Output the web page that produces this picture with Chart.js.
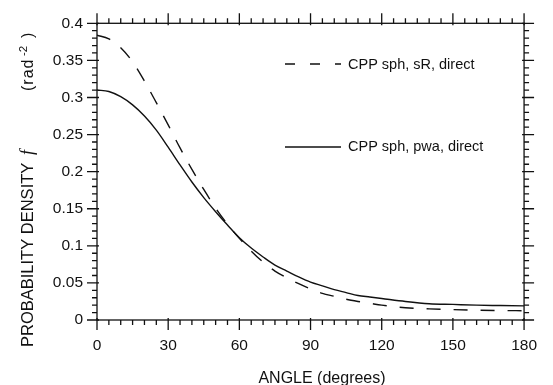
<!DOCTYPE html>
<html>
<head>
<meta charset="utf-8">
<script src="https://cdn.jsdelivr.net/npm/chart.js@4.4.0/dist/chart.umd.min.js"></script>
<style>
html, body { margin: 0; padding: 0; background: #fff; }
canvas { display: block; }
</style>
</head>
<body>
<canvas id="chart" width="553" height="385"></canvas>
<script>
// angle in degrees
let angles = [0, 5, 10, 15, 20, 25, 30, 35, 40, 45, 50, 55, 60, 65, 70, 75, 80, 85, 90, 95, 100, 105, 110, 115, 120, 130, 140, 150, 160, 170, 180];

// probability density (rad^-2)
let sR  = [0.384, 0.379, 0.367, 0.348, 0.322, 0.293, 0.263, 0.232, 0.203, 0.176, 0.151, 0.129, 0.110, 0.093, 0.078, 0.066, 0.057, 0.049, 0.042, 0.036, 0.032, 0.028, 0.025, 0.0225, 0.020, 0.0165, 0.015, 0.014, 0.0133, 0.0128, 0.0125];
let pwa = [0.310, 0.308, 0.301, 0.290, 0.275, 0.256, 0.233, 0.209, 0.186, 0.165, 0.146, 0.128, 0.111, 0.097, 0.085, 0.074, 0.066, 0.058, 0.051, 0.046, 0.041, 0.037, 0.033, 0.031, 0.029, 0.025, 0.022, 0.021, 0.020, 0.0195, 0.019];

let seriesNames = ["CPP sph, sR, direct", "CPP sph, pwa, direct"];

let xTicks = [0, 30, 60, 90, 120, 150, 180];
let yTicks = [0, 0.05, 0.1, 0.15, 0.2, 0.25, 0.3, 0.35, 0.4];
let yTickLabels = ["0", "0.05", "0.1", "0.15", "0.2", "0.25", "0.3", "0.35", "0.4"];

const ink = "#111";
const font = "'Liberation Sans', Arial, sans-serif";

function points(values) {
    return angles.map((a, i) => ({ x: a, y: values[i] }));
}

// box, tick marks, axis titles and the in-plot legend
const frame = {
    id: "frame",
    afterDraw(c) {
        const ctx = c.ctx, a = c.chartArea, x = c.scales.x, y = c.scales.y;
        ctx.save();
        ctx.strokeStyle = ink;
        ctx.lineWidth = 1.3;
        ctx.setLineDash([]);
        ctx.strokeRect(a.left, a.top, a.right - a.left, a.bottom - a.top);

        ctx.beginPath();
        for (let k = 0; k <= 36; k++) {
            let px = x.getPixelForValue(k * 5);
            let major = k % 6 == 0;
            let len = major ? 10 : 5, inn = major ? 2 : 0;
            ctx.moveTo(px, a.bottom - inn); ctx.lineTo(px, a.bottom + len);
            ctx.moveTo(px, a.top + inn); ctx.lineTo(px, a.top - len);
        }
        for (let k = 0; k <= 40; k++) {
            let py = y.getPixelForValue(k / 100);
            let major = k % 5 == 0;
            let len = major ? 10 : 5, inn = major ? 2 : 0;
            ctx.moveTo(a.left + inn, py); ctx.lineTo(a.left - len, py);
            ctx.moveTo(a.right - inn, py); ctx.lineTo(a.right + len, py);
        }
        ctx.stroke();

        // legend
        ctx.beginPath();
        ctx.setLineDash([10, 15]);
        ctx.moveTo(285, 64); ctx.lineTo(341, 64);
        ctx.stroke();
        ctx.beginPath();
        ctx.setLineDash([]);
        ctx.moveTo(285, 147); ctx.lineTo(341, 147);
        ctx.stroke();

        ctx.fillStyle = ink;
        ctx.font = "14.5px " + font;
        ctx.textAlign = "left";
        ctx.textBaseline = "middle";
        ctx.fillText(seriesNames[0], 348, 65);
        ctx.fillText(seriesNames[1], 348, 147);

        // x title
        ctx.font = "16px " + font;
        ctx.textAlign = "center";
        ctx.textBaseline = "alphabetic";
        ctx.fillText("ANGLE (degrees)", 322, 383);

        // y title
        ctx.translate(33, 347);
        ctx.rotate(-Math.PI / 2);
        ctx.textAlign = "left";
        ctx.font = "16.5px " + font;
        ctx.fillText("PROBABILITY DENSITY", 0, 0);
        ctx.font = "italic 18px 'Liberation Serif', serif";
        ctx.fillText("f", 192, 0);
        ctx.font = "16px " + font;
        ctx.letterSpacing = "1px";
        ctx.fillText("(rad", 256, 0);
        ctx.letterSpacing = "0px";
        ctx.font = "11.5px " + font;
        ctx.fillText("-2", 291, -6);
        ctx.font = "16px " + font;
        ctx.fillText(")", 309, 0);
        ctx.restore();
    }
};

let chart = new Chart(document.getElementById("chart"), {
    type: "line",
    data: {
        datasets: [{
            label: seriesNames[0],
            data: points(sR),
            borderColor: ink,
            borderWidth: 1.4,
            borderDash: [14, 13],
            pointRadius: 0,
            cubicInterpolationMode: "monotone",
            fill: false
        }, {
            label: seriesNames[1],
            data: points(pwa),
            borderColor: ink,
            borderWidth: 1.4,
            pointRadius: 0,
            cubicInterpolationMode: "monotone",
            fill: false
        }]
    },
    options: {
        responsive: false,
        animation: false,
        devicePixelRatio: 1,
        layout: { padding: { top: 18, right: 23.5, left: 0, bottom: 0 } },
        plugins: { legend: { display: false }, tooltip: { enabled: false } },
        scales: {
            x: {
                type: "linear",
                min: 0,
                max: 180,
                afterBuildTicks: s => { s.ticks = xTicks.map(v => ({ value: v })); },
                afterFit: s => { s.height = 65; },
                grid: { display: false, drawTicks: false },
                border: { display: false },
                ticks: { padding: 16, color: ink, maxRotation: 0, autoSkip: false, font: { family: font, size: 15.5 } }
            },
            y: {
                type: "linear",
                min: 0,
                max: 0.4,
                afterBuildTicks: s => { s.ticks = yTicks.map(v => ({ value: v })); },
                afterFit: s => { s.width = 97; },
                grid: { display: false, drawTicks: false },
                border: { display: false },
                ticks: { padding: 14, color: ink, autoSkip: false, font: { family: font, size: 15.5 },
                         callback: (v, i) => yTickLabels[i] }
            }
        }
    },
    plugins: [frame]
});
</script>
</body>
</html>
